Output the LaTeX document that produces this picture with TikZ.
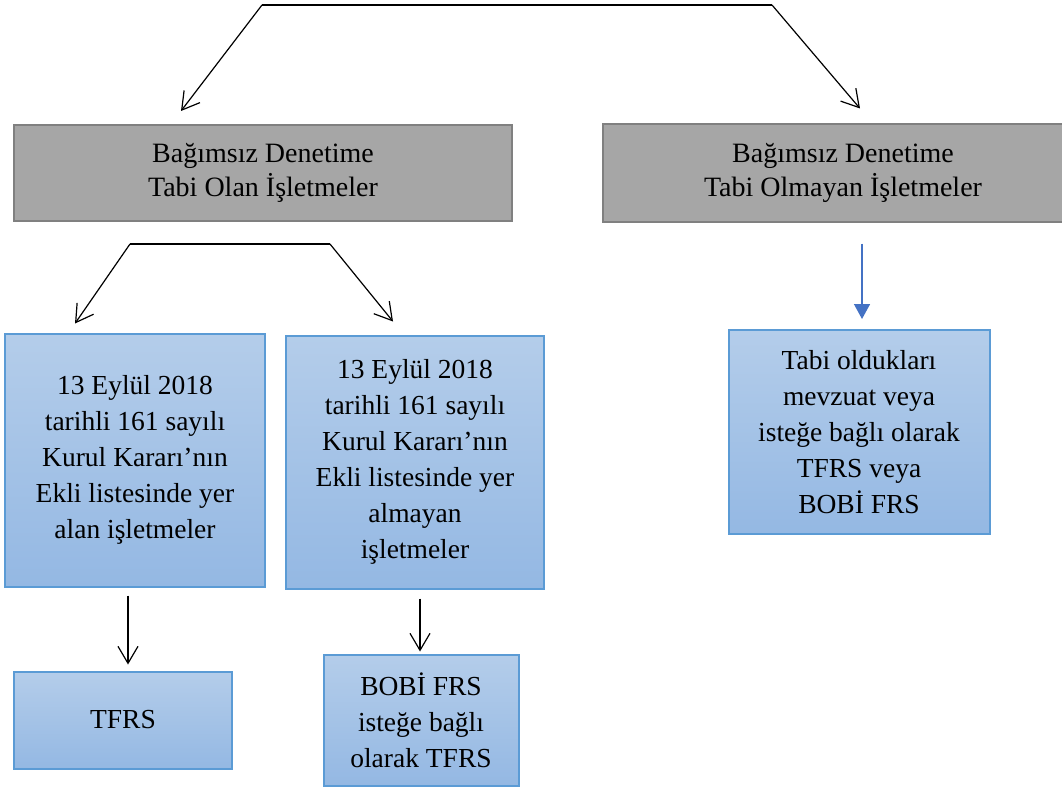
\documentclass[tikz,border=0pt]{standalone}
\usepackage{fontspec}
\setmainfont{Liberation Serif}
\usetikzlibrary{arrows.meta,calc}
\definecolor{kutugri}{RGB}{166,166,166}
\definecolor{kenargri}{RGB}{128,128,128}
\definecolor{mavikenar}{RGB}{91,155,213}
\definecolor{maviust}{RGB}{180,205,234}
\definecolor{mavialt}{RGB}{148,184,227}
\definecolor{okmavi}{RGB}{68,114,196}
\tikzset{
	grikutu/.style={draw=kenargri, line width=2pt, fill=kutugri, align=center, inner sep=0pt,
		font=\fontsize{28}{34}\selectfont},
	mavikutu/.style={draw=mavikenar, line width=2pt, top color=maviust, bottom color=mavialt,
		align=center, inner sep=0pt, font=\fontsize{27.5}{36}\selectfont},
	ok/.style={line width=1.2pt, -{Straight Barb[length=17pt,width=20pt]}},
	maviok/.style={draw=okmavi, line width=1.5pt, -{Triangle[length=15pt,width=16pt]}, okmavi}
}
\begin{document}
\begin{tikzpicture}[x=1pt, y=-1pt]
	\useasboundingbox (0,0) rectangle (1062,789);
	\clip (0,0) rectangle (1062,789);
	% ust kutular
	\node[grikutu, minimum width=498pt, minimum height=96pt] (olan) at (263,173) {Bağımsız Denetime\\Tabi Olan İşletmeler};
	\node[grikutu, minimum width=480pt, minimum height=97pt] (olmayan) at (843,173) {Bağımsız Denetime\\Tabi Olmayan İşletmeler};
	% orta kutular
	\node[mavikutu, minimum width=260pt, minimum height=253pt] (listede) at (135,460) {13 Eylül 2018\\tarihli 161 sayılı\\Kurul Kararı’nın\\Ekli listesinde yer\\alan işletmeler};
	\node[mavikutu, minimum width=258pt, minimum height=253pt] (disi) at (415,462) {13 Eylül 2018\\tarihli 161 sayılı\\Kurul Kararı’nın\\Ekli listesinde yer\\almayan\\işletmeler};
	\node[mavikutu, minimum width=261pt, minimum height=204pt] (mevzuat) at (859,432) {Tabi oldukları\\mevzuat veya\\isteğe bağlı olarak\\TFRS veya\\BOBİ FRS};
	% alt kutular
	\node[mavikutu, minimum width=218pt, minimum height=97pt] (tfrs) at (123,720) {TFRS};
	\node[mavikutu, minimum width=195pt, minimum height=131pt] (bobi) at (421,720) {BOBİ FRS\\isteğe bağlı\\olarak TFRS};
	% ust catal
	\coordinate (ustsol) at (262,5);
	\coordinate (ustsag) at (772,5);
	\draw[line width=1.2pt] (ustsol) -- (ustsag);
	\draw[ok] (ustsol) -- ([xshift=-82pt,yshift=13pt]olan.north);
	\draw[ok] (ustsag) -- ([xshift=17pt,yshift=15pt]olmayan.north);
	% orta catal
	\coordinate (ortasol) at (130,244);
	\coordinate (ortasag) at (330,244);
	\draw[line width=1.2pt] (ortasol) -- (ortasag);
	\draw[ok] (ortasol) -- ([xshift=-60pt,yshift=9pt]listede.north);
	\draw[ok] (ortasag) -- ([xshift=-22pt,yshift=13pt]disi.north);
	% dikey oklar
	\draw[maviok] ([xshift=19pt,yshift=-21pt]olmayan.south) -- ([xshift=3pt,yshift=10pt]mevzuat.north);
	\draw[ok] ([xshift=-7pt,yshift=-8pt]listede.south) -- ([xshift=5pt,yshift=6pt]tfrs.north);
	\draw[ok] ([xshift=5pt,yshift=-9pt]disi.south) -- ([xshift=-1pt,yshift=2pt]bobi.north);
\end{tikzpicture}
\end{document}
